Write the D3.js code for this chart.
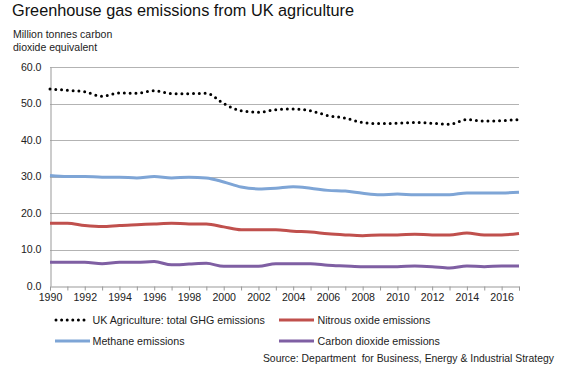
<html><head>
<title>Greenhouse gas emissions from UK agriculture</title>
<style>
body {
    margin: 0;
    background: #fff;
    font-family: "Liberation Sans", Arial, sans-serif;
}
.grid line { stroke: #b3b3b3; stroke-width: 1; }
.axis text { font-size: 10.6px; fill: #222; }
.series { fill: none; stroke-width: 3; stroke-linejoin: round; }
.legend text { font-size: 10.7px; fill: #222; }
</style>
<script src="https://d3js.org/d3.v7.min.js"></script>
</head>
<body>
<svg id="chart" width="575" height="370"></svg>
<script>
const years = d3.range(1990, 2018);
const yTicks = [0, 10, 20, 30, 40, 50, 60];
const xLabels = d3.range(1990, 2017, 2);

const totalGHG = [54.0, 53.6, 53.2, 52.0, 52.9, 52.8, 53.5, 52.7, 52.7, 52.8, 50.0, 48.0, 47.6, 48.3,
    48.5, 48.0, 46.7, 46.0, 44.8, 44.5, 44.6, 44.8, 44.6, 44.3, 45.6, 45.2, 45.3, 45.6];
const methane = [30.3, 30.0, 30.0, 29.8, 29.8, 29.6, 30.0, 29.6, 29.8, 29.6, 28.5, 27.1, 26.6, 26.8,
    27.2, 26.8, 26.2, 26.0, 25.4, 25.0, 25.2, 25.0, 25.0, 25.0, 25.5, 25.5, 25.5, 25.7];
const nitrous = [17.2, 17.2, 16.6, 16.3, 16.6, 16.8, 17.0, 17.2, 17.0, 17.0, 16.2, 15.4, 15.4, 15.4,
    15.0, 14.8, 14.3, 14.0, 13.8, 14.0, 14.0, 14.2, 14.0, 14.0, 14.5, 14.0, 14.0, 14.4];
const carbonDioxide = [6.5, 6.5, 6.5, 6.1, 6.5, 6.5, 6.7, 5.8, 6.0, 6.2, 5.4, 5.4, 5.4, 6.1,
    6.1, 6.1, 5.7, 5.5, 5.3, 5.3, 5.3, 5.5, 5.3, 4.9, 5.5, 5.3, 5.5, 5.5];

const series = [
    {name: "UK Agriculture: total GHG emissions", values: totalGHG, color: "#000", dotted: true},
    {name: "Nitrous oxide emissions", values: nitrous, color: "#c0504d"},
    {name: "Methane emissions", values: methane, color: "#7ea5d6"},
    {name: "Carbon dioxide emissions", values: carbonDioxide, color: "#7f5fa3"}
];

const svg = d3.select("#chart");
const plotLeft = 50, plotRight = 519, plotTop = 67, plotBottom = 286;

const x = d3.scaleLinear().domain([1990, 2017]).range([plotLeft, plotRight]);
const y = d3.scaleLinear().domain([0, 60]).range([plotBottom, plotTop]);

// titles
svg.append("text").attr("x", 12).attr("y", 16)
    .style("font-size", "16.3px").style("fill", "#111")
    .text("Greenhouse gas emissions from UK agriculture");
svg.append("text").attr("x", 13).attr("y", 38)
    .style("font-size", "10.5px").style("fill", "#222")
    .text("Million tonnes carbon");
svg.append("text").attr("x", 13).attr("y", 51)
    .style("font-size", "10.5px").style("fill", "#222")
    .text("dioxide equivalent");

// gridlines
svg.append("g").attr("class", "grid")
    .selectAll("line").data(yTicks.filter(d => d > 0)).join("line")
    .attr("x1", plotLeft).attr("x2", plotRight)
    .attr("y1", d => Math.round(y(d)) + 0.5).attr("y2", d => Math.round(y(d)) + 0.5);

// y axis (no tick marks, labels only)
const yAxis = svg.append("g").attr("class", "axis")
    .attr("transform", `translate(${plotLeft + 0.5},0)`)
    .call(d3.axisLeft(y).tickValues(yTicks).tickFormat(d3.format(".1f")).tickSize(0).tickPadding(9));
yAxis.select(".domain").attr("stroke", "#999");

// x axis: a tick each year, a label every two years
const xAxis = svg.append("g").attr("class", "axis")
    .attr("transform", `translate(0,${plotBottom + 0.5})`)
    .call(d3.axisBottom(x).tickValues(years).tickSize(4).tickPadding(3)
        .tickFormat(d => xLabels.includes(d) ? d : ""));
xAxis.select(".domain").attr("stroke", "#999");
xAxis.selectAll(".tick line").attr("stroke", "#999");

// lines
const line = d3.line().x((d, i) => x(years[i])).y(d => y(d)).curve(d3.curveMonotoneX);
series.slice().reverse().forEach(s => {
    const p = svg.append("path").attr("class", "series")
        .attr("d", line(s.values))
        .attr("stroke", s.color);
    if (s.dotted) {
        p.attr("stroke-dasharray", "0 5.8").attr("stroke-linecap", "round");
    }
});

// legend
const legendPos = [[55, 320], [279, 320], [55, 341], [279, 341]];
const legend = svg.append("g").attr("class", "legend");
series.forEach((s, i) => {
    const [lx, ly] = legendPos[i];
    const g = legend.append("g").attr("transform", `translate(${lx},${ly})`);
    const l = g.append("line").attr("x1", s.dotted ? 1 : 0).attr("x2", s.dotted ? 30 : 35)
        .attr("y1", 0).attr("y2", 0)
        .attr("stroke", s.color).attr("stroke-width", 3);
    if (s.dotted) l.attr("stroke-dasharray", "0 5.6").attr("stroke-linecap", "round");
    g.append("text").attr("x", i % 2 ? 38.5 : 37.5).attr("y", 4).text(s.name);
});

svg.append("text").attr("x", 554).attr("y", 362).attr("text-anchor", "end")
    .style("font-size", "10.4px").style("fill", "#222").style("white-space", "pre")
    .text("Source: Department  for Business, Energy & Industrial Strategy");
</script>
</body>
</html>
